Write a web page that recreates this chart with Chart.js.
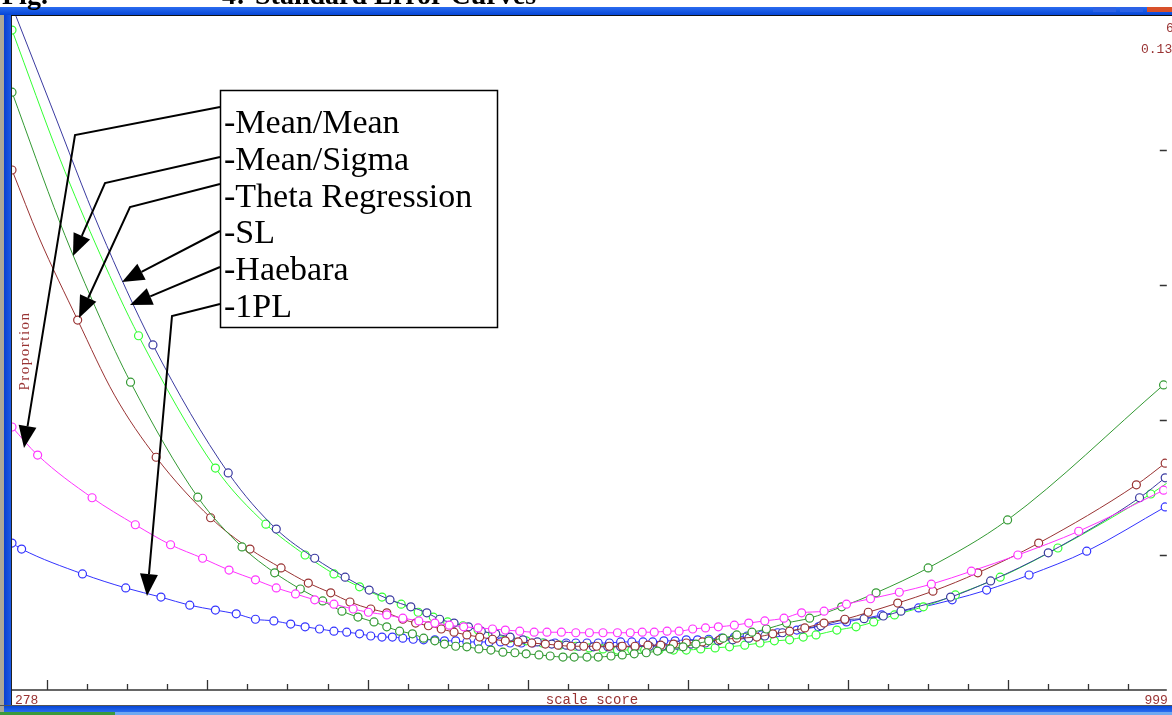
<!DOCTYPE html>
<html>
<head>
<meta charset="utf-8">
<script src="https://cdn.jsdelivr.net/npm/chart.js@4.4.1/dist/chart.umd.min.js"></script>
<style>
  html, body { margin: 0; padding: 0; background: #fff; overflow: hidden; }
  #wrap { position: relative; width: 1172px; height: 715px; }
</style>
</head>
<body>
<div id="wrap"><canvas id="chart" width="1172" height="715"></canvas></div>
<script>
// x axis range (scale score) and tick values
const scoreMin = 278;
const scoreMax = 999;
const majorTicks = [300, 400, 500, 600, 700, 800, 900];
const minorTicks = [325, 350, 375, 425, 450, 475, 525, 550, 575, 625, 650, 675, 725, 750, 775, 825, 850, 875, 925, 950, 975];
const propMax = 0.125;
const propTicks = [0.025, 0.05, 0.075, 0.1];

const legendLabels = ["-Mean/Mean", "-Mean/Sigma", "-Theta Regression", "-SL", "-Haebara", "-1PL"];

// Mean/Mean (magenta)
const mmScore = [278, 294, 328, 355, 377, 397, 413.5, 430, 443, 455, 467, 479, 491, 500.5, 512, 522, 532, 542, 551, 560, 569, 578, 586, 595, 604, 612, 621, 630, 638.5, 647, 656, 664, 671.5, 679, 687, 694.5, 703, 711, 719, 729, 738, 748, 760, 771, 785, 799, 814, 832, 852, 877, 906, 944, 997];
const mmProp = [.0487, .0435, .0356, .0306, .0269, .0244, .0222, .0204, .0189, .0178, .0167, .0159, .0150, .0144, .0139, .0133, .0128, .0124, .0120, .0117, .0115, .0113, .0111, .0109, .0107, .0107, .0107, .0106, .0106, .0106, .0106, .0106, .0107, .0107, .0109, .0109, .0113, .0115, .0117, .0120, .0124, .0128, .0133, .0143, .0146, .0159, .0169, .0181, .0196, .0220, .0250, .0294, .0370];

// Mean/Sigma (dark green)
const msScore = [278, 352, 394, 421.6, 442, 458, 472, 484, 494, 504, 512, 520, 528, 535, 542, 548, 555, 562, 569.5, 577, 584.5, 592, 599, 607, 614, 622, 629, 637, 644, 652, 659, 666.5, 674, 681, 689, 697, 705, 713, 722, 730.5, 740, 749, 761.6, 776, 796, 817.5, 850, 899.6, 997];
const msProp = [.1107, .0570, .0357, .0265, .0217, .0187, .0165, .0146, .0135, .0126, .0117, .0109, .0104, .0096, .0091, .0085, .0081, .0080, .0076, .0074, .0070, .0069, .0067, .0065, .0063, .0061, .0061, .0061, .0061, .0063, .0065, .0067, .0069, .0072, .0076, .0080, .0085, .0091, .0096, .0102, .0107, .0113, .0124, .0133, .0154, .0180, .0226, .0315, .0565];
const msLineScore = [308, 333];
const msLineProp = [.0865, .0689];

// Theta Regression (brown)
const trScore = [278, 319, 368, 402, 426.6, 446, 463, 477, 489, 502, 512, 522, 530, 538, 546, 554, 562, 570, 578, 586, 594, 602.5, 611, 619, 627, 635, 643, 651, 659, 667, 675, 683, 691, 699, 709, 720, 730.5, 743, 753, 763.5, 773, 785, 798, 812.6, 831, 853, 881, 919, 980, 998];
const trProp = [.0963, .0685, .0431, .0319, .0261, .0226, .0198, .0180, .0163, .0150, .0143, .0131, .0124, .0119, .0113, .0107, .0102, .0098, .0094, .0091, .0089, .0087, .0085, .0083, .0081, .0081, .0081, .0081, .0081, .0081, .0083, .0083, .0085, .0087, .0089, .0093, .0096, .0098, .0104, .0109, .0115, .0124, .0131, .0144, .0161, .0183, .0217, .0272, .0380, .0420];
const trLineScore = [295, 342];
const trLineProp = [.0837, .0546];

// SL (navy)
const slScore = [366, 413, 443, 467, 486, 501, 514, 527, 537, 545, 554, 563, 571, 580, 589, 597, 606, 615, 624, 632, 641, 650, 658, 667, 676, 684, 693, 702, 711, 719, 728, 738, 748, 759, 771, 783, 798, 810, 822, 833, 864, 889, 925, 982, 998];
const slProp = [.0639, .0402, .0298, .0244, .0209, .0185, .0167, .0154, .0143, .0131, .0124, .0117, .0109, .0104, .0098, .0093, .0089, .0085, .0083, .0081, .0080, .0080, .0080, .0080, .0081, .0081, .0083, .0085, .0087, .0091, .0093, .0096, .0100, .0106, .0113, .0119, .0130, .0132, .0137, .0146, .0172, .0202, .0254, .0356, .0393];
const slLineScore = [279, 302, 333];
const slLineProp = [.1259, .1085, .0852];

// Haebara (lime)
const hbScore = [278, 357, 405, 436.5, 461, 479, 495, 509, 521, 531.6, 541, 550, 559.6, 569, 578, 589, 599, 609, 620, 630, 638.5, 647, 656, 665, 673, 682, 691, 699, 708, 717, 726, 735.5, 745, 754, 763.5, 772, 780, 793, 805, 816, 829, 847, 867, 895, 931, 989];
const hbProp = [.1222, .0656, .0411, .0307, .0250, .0215, .0191, .0172, .0159, .0144, .0135, .0126, .0119, .0111, .0104, .0096, .0091, .0087, .0083, .0081, .0078, .0076, .0074, .0074, .0074, .0074, .0074, .0074, .0076, .0078, .0080, .0083, .0087, .0091, .0093, .0098, .0102, .0111, .0117, .0126, .0139, .0154, .0176, .0209, .0263, .0363];
const hbLineScore = [308, 333, 999];
const hbLineProp = [.0983, .0807, .0383];

// 1PL (blue)
const plScore = [278, 284, 322, 349, 371, 389, 405, 418, 430, 441.5, 452, 461, 470, 479, 487, 495, 502, 509, 515.5, 522, 528.5, 535, 542, 548, 555, 562, 569, 576, 583, 589, 596, 603, 610, 617, 624, 630, 637, 644, 651, 658, 665, 672, 678, 685, 692, 699, 706, 713, 721, 729, 737, 746, 756, 768, 781.5, 799, 821, 844, 865, 886.5, 913, 949, 998];
const plProp = [.0272, .0261, .0215, .0189, .0172, .0157, .0148, .0141, .0131, .0128, .0122, .0117, .0113, .0109, .0107, .0104, .0100, .0098, .0098, .0096, .0094, .0093, .0093, .0091, .0091, .0089, .0089, .0089, .0089, .0087, .0087, .0087, .0087, .0087, .0087, .0087, .0087, .0087, .0087, .0089, .0089, .0089, .0089, .0091, .0091, .0093, .0093, .0094, .0096, .0098, .0100, .0102, .0106, .0111, .0117, .0126, .0139, .0152, .0167, .0185, .0213, .0257, .0339];

function buildPoints(xs, ys, lineXs, lineYs) {
  const pts = xs.map((v, i) => ({ x: v, y: ys[i], m: true }));
  (lineXs || []).forEach((v, i) => pts.push({ x: v, y: lineYs[i], m: false }));
  return pts.sort((a, b) => a.x - b.x);
}

function makeSeries(label, color, pts) {
  return {
    label: label,
    data: pts,
    borderColor: color,
    borderWidth: 1,
    backgroundColor: '#ffffff',
    pointBorderColor: color,
    pointBackgroundColor: '#ffffff',
    pointBorderWidth: 1.2,
    pointRadius: ctx => (ctx.raw && ctx.raw.m ? 4 : 0),
    pointHoverRadius: 0,
    cubicInterpolationMode: 'monotone',
    fill: false
  };
}

const datasets = [
  makeSeries('Mean/Mean', '#ff33ff', buildPoints(mmScore, mmProp)),
  makeSeries('Mean/Sigma', '#339933', buildPoints(msScore, msProp, msLineScore, msLineProp)),
  makeSeries('Theta Regression', '#993333', buildPoints(trScore, trProp, trLineScore, trLineProp)),
  makeSeries('SL', '#3a3aa0', buildPoints(slScore, slProp, slLineScore, slLineProp)),
  makeSeries('Haebara', '#33ff33', buildPoints(hbScore, hbProp, hbLineScore, hbLineProp)),
  makeSeries('1PL', '#3333ff', buildPoints(plScore, plProp))
];

// arrows from the legend box to the curves (screen annotation)
const arrows = [
  [[220, 107], [75, 135], [24, 448]],
  [[220, 157], [105, 183], [73, 256]],
  [[220, 184], [130, 207], [79, 318]],
  [[220, 231], [122, 282]],
  [[220, 267], [130, 305]],
  [[220, 304], [172, 316], [147, 596]]
];

function drawArrow(ctx, pts) {
  const n = pts.length;
  const tip = pts[n - 1], prev = pts[n - 2];
  const ang = Math.atan2(tip[1] - prev[1], tip[0] - prev[0]);
  const len = 22, half = 9;
  const bx = tip[0] - Math.cos(ang) * len, by = tip[1] - Math.sin(ang) * len;
  ctx.beginPath();
  ctx.moveTo(pts[0][0], pts[0][1]);
  for (let i = 1; i < n - 1; i++) ctx.lineTo(pts[i][0], pts[i][1]);
  ctx.lineTo(bx, by);
  ctx.stroke();
  ctx.beginPath();
  ctx.moveTo(tip[0], tip[1]);
  ctx.lineTo(bx + Math.sin(ang) * half, by - Math.cos(ang) * half);
  ctx.lineTo(bx - Math.sin(ang) * half, by + Math.cos(ang) * half);
  ctx.closePath();
  ctx.fill();
}

const framePlugin = {
  id: 'frame',
  afterDraw(chart) {
    const { ctx, chartArea: a, scales: { x, y } } = chart;
    ctx.save();

    // x axis line and ticks
    ctx.strokeStyle = '#333333';
    ctx.lineWidth = 1.5;
    ctx.beginPath();
    ctx.moveTo(a.left, a.bottom);
    ctx.lineTo(a.right, a.bottom);
    ctx.stroke();
    ctx.lineWidth = 1.3;
    ctx.beginPath();
    majorTicks.forEach(v => {
      const px = Math.round(x.getPixelForValue(v)) + 0.5;
      ctx.moveTo(px, a.bottom);
      ctx.lineTo(px, a.bottom - 10);
    });
    minorTicks.forEach(v => {
      const px = Math.round(x.getPixelForValue(v)) + 0.5;
      ctx.moveTo(px, a.bottom);
      ctx.lineTo(px, a.bottom - 6);
    });
    // right y ticks
    propTicks.forEach(v => {
      const py = Math.round(y.getPixelForValue(v)) + 0.5;
      ctx.moveTo(a.right - 7, py);
      ctx.lineTo(a.right, py);
    });
    ctx.stroke();

    // axis texts
    ctx.fillStyle = '#993333';
    ctx.font = '13px "Liberation Mono", monospace';
    ctx.textBaseline = 'alphabetic';
    ctx.textAlign = 'left';
    ctx.fillText(String(scoreMin), a.left + 3, 704);
    ctx.textAlign = 'right';
    ctx.fillText(String(scoreMax), a.right + 1, 704);
    ctx.textAlign = 'center';
    ctx.font = '14px "Liberation Mono", monospace';
    ctx.fillText('scale score', 592, 704);
    ctx.font = '13px "Liberation Mono", monospace';
    ctx.textAlign = 'left';
    ctx.fillText('6', 1166, 32);
    ctx.fillText('0.13', 1141, 53);
    ctx.save();
    ctx.translate(29, 351);
    ctx.rotate(-Math.PI / 2);
    ctx.textAlign = 'center';
    ctx.font = '15px "Liberation Serif", serif';
    ctx.letterSpacing = '1.5px';
    ctx.fillText('Proportion', 0, 0);
    ctx.restore();

    // window chrome
    ctx.fillStyle = '#aca899';
    ctx.fillRect(0, 7, 4, 708);
    const side = ctx.createLinearGradient(4, 0, 11, 0);
    side.addColorStop(0, '#0a3fd0');
    side.addColorStop(1, '#1a5ae8');
    ctx.fillStyle = side;
    ctx.fillRect(4, 7, 7, 708);
    ctx.fillStyle = '#222';
    ctx.fillRect(11, 15, 1, 690);
    const top = ctx.createLinearGradient(0, 7, 0, 15);
    top.addColorStop(0, '#2a6cf0');
    top.addColorStop(1, '#0646d6');
    ctx.fillStyle = top;
    ctx.fillRect(0, 7, 1172, 8);
    ctx.fillStyle = '#111';
    ctx.fillRect(11, 15, 1161, 1);
    // title bar buttons
    ctx.fillStyle = '#2c62e6';
    ctx.fillRect(1093, 7, 23, 5);
    ctx.fillRect(1120, 7, 23, 5);
    ctx.fillStyle = '#d8502a';
    ctx.fillRect(1147, 7, 25, 5);
    // bottom frame
    ctx.fillStyle = '#555';
    ctx.fillRect(0, 705, 1172, 1);
    const bot = ctx.createLinearGradient(0, 706, 0, 712);
    bot.addColorStop(0, '#0646d6');
    bot.addColorStop(1, '#2a6cf0');
    ctx.fillStyle = bot;
    ctx.fillRect(4, 706, 1168, 6);
    ctx.fillStyle = '#6fa8f0';
    ctx.fillRect(0, 712, 1172, 3);
    ctx.fillStyle = '#3c9a3c';
    ctx.fillRect(0, 712, 115, 3);

    // figure title (cut at the top)
    ctx.fillStyle = '#000';
    ctx.font = 'bold 28px "Liberation Serif", serif';
    ctx.textAlign = 'left';
    ctx.fillText('Fig.', 2, 4);
    ctx.fillText('4:', 222, 4);
    ctx.fillText('Standard Error Curves', 255, 4);

    // legend box
    ctx.fillStyle = '#fff';
    ctx.fillRect(220, 90, 278, 238);
    ctx.strokeStyle = '#000';
    ctx.lineWidth = 1.5;
    ctx.strokeRect(220.5, 90.5, 277, 237);
    ctx.fillStyle = '#000';
    ctx.font = '34px "Liberation Serif", serif';
    ctx.textAlign = 'left';
    legendLabels.forEach((t, i) => ctx.fillText(t, 224, 133 + i * 36.8));

    // arrows
    ctx.lineWidth = 2;
    ctx.strokeStyle = '#000';
    ctx.fillStyle = '#000';
    arrows.forEach(p => drawArrow(ctx, p));
    ctx.restore();
  }
};

new Chart(document.getElementById('chart'), {
  type: 'line',
  data: { datasets: datasets },
  options: {
    responsive: false,
    animation: false,
    layout: { padding: { left: 12, right: 0, top: 15, bottom: 25 } },
    plugins: { legend: { display: false }, tooltip: { enabled: false } },
    scales: {
      x: { type: 'linear', min: scoreMin, max: scoreMax, display: false },
      y: { type: 'linear', min: 0, max: propMax, display: false }
    }
  },
  plugins: [framePlugin]
});
</script>
</body>
</html>
